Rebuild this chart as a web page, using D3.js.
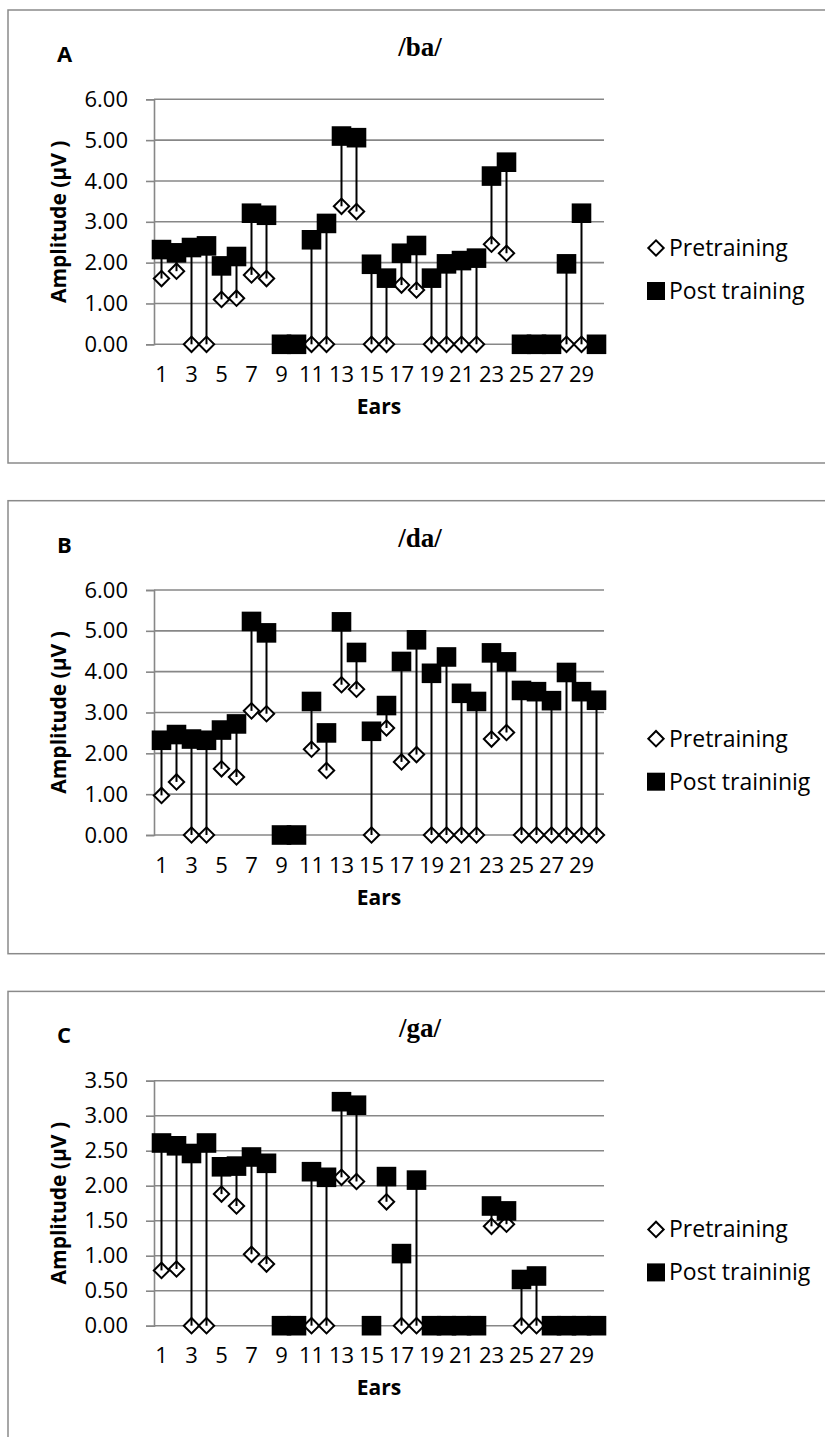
<!DOCTYPE html>
<html>
<head>
<meta charset="utf-8">
<script src="https://cdn.jsdelivr.net/npm/d3@7"></script>
<style>
  body { margin: 0; background: #fff; }
  svg { display: block; }
  text { font-family: "Open Sans", sans-serif; fill: #000; }
</style>
</head>
<body>
<svg width="825" height="1437"></svg>
<script>
"use strict";

// Ears 1..30, amplitudes in microvolts
const EARS = [1, 2, 3, 4, 5, 6, 7, 8, 9, 10, 11, 12, 13, 14, 15, 16, 17, 18, 19, 20, 21, 22, 23, 24, 25, 26, 27, 28, 29, 30];
const EAR_LABELS = [1, 3, 5, 7, 9, 11, 13, 15, 17, 19, 21, 23, 25, 27, 29];

const baPre  = [1.61, 1.79, 0, 0, 1.10, 1.13, 1.70, 1.61, 0, 0, 0, 0, 3.38, 3.25, 0, 0, 1.45, 1.33, 0, 0, 0, 0, 2.45, 2.23, 0, 0, 0, 0, 0, 0];
const baPost = [2.32, 2.24, 2.37, 2.41, 1.92, 2.15, 3.21, 3.16, 0, 0, 2.56, 2.96, 5.10, 5.06, 1.96, 1.62, 2.23, 2.42, 1.62, 1.97, 2.05, 2.11, 4.12, 4.46, 0, 0, 0, 1.97, 3.21, 0];

const daPre  = [0.97, 1.30, 0, 0, 1.62, 1.42, 3.04, 2.97, 0, 0, 2.10, 1.58, 3.68, 3.57, 0, 2.62, 1.79, 1.97, 0, 0, 0, 0, 2.35, 2.51, 0, 0, 0, 0, 0, 0];
const daPost = [2.32, 2.46, 2.35, 2.32, 2.57, 2.72, 5.23, 4.95, 0, 0, 3.27, 2.50, 5.22, 4.47, 2.54, 3.17, 4.25, 4.78, 3.96, 4.36, 3.47, 3.27, 4.46, 4.24, 3.54, 3.51, 3.29, 3.98, 3.51, 3.30];

const gaPre  = [0.79, 0.81, 0, 0, 1.88, 1.71, 1.02, 0.88, 0, 0, 0, 0, 2.12, 2.06, 0, 1.77, 0, 0, 0, 0, 0, 0, 1.42, 1.45, 0, 0, 0, 0, 0, 0];
const gaPost = [2.61, 2.57, 2.46, 2.61, 2.27, 2.28, 2.41, 2.32, 0, 0, 2.20, 2.12, 3.20, 3.15, 0, 2.13, 1.03, 2.08, 0, 0, 0, 0, 1.71, 1.64, 0.66, 0.71, 0, 0, 0, 0];

const TICKS_6 = [0, 1, 2, 3, 4, 5, 6];
const TICKS_35 = [0, 0.5, 1, 1.5, 2, 2.5, 3, 3.5];

const panels = [
    { letter: "A", title: "/ba/", pre: baPre, post: baPost, ticks: TICKS_6, postName: "Post training" },
    { letter: "B", title: "/da/", pre: daPre, post: daPost, ticks: TICKS_6, postName: "Post traininig" },
    { letter: "C", title: "/ga/", pre: gaPre, post: gaPost, ticks: TICKS_35, postName: "Post traininig" }
];

const GRID = "#878787";
const svg = d3.select("svg");

const plot = { left: 154, right: 604, top: 89.3, bottom: 334.3 };

const x = d3.scaleBand()
    .domain(EARS)
    .range([plot.left, plot.right])
    .padding(0);

const diamond = d3.symbol(d3.symbolSquare, 118);
const square = d3.symbol(d3.symbolSquare, 384);

panels.forEach((p, i) => drawPanel(p, 10 + i * 490.7));

function drawPanel(p, top) {
    const g = svg.append("g").attr("transform", `translate(0,${top})`);

    g.append("rect")
        .attr("x", 8).attr("y", 0)
        .attr("width", 830).attr("height", 453)
        .attr("fill", "none")
        .attr("stroke", "#8a8a8a")
        .attr("stroke-width", 1.5);

    g.append("text")
        .attr("x", 57).attr("y", 52)
        .attr("font-size", 22).attr("font-weight", 700)
        .text(p.letter);

    g.append("text")
        .attr("x", 420).attr("y", 46)
        .attr("text-anchor", "middle")
        .style("font-family", "'Liberation Serif', serif")
        .attr("font-size", 27).attr("font-weight", 700)
        .text(p.title);

    const y = d3.scaleLinear()
        .domain([0, d3.max(p.ticks)])
        .range([plot.bottom, plot.top]);

    // horizontal gridlines
    g.append("g")
        .selectAll("line")
        .data(p.ticks)
        .join("line")
            .attr("x1", plot.left).attr("x2", plot.right)
            .attr("y1", d => y(d)).attr("y2", d => y(d))
            .attr("stroke", GRID).attr("stroke-width", 1.6);

    const yAxis = g.append("g")
        .attr("transform", `translate(${plot.left},0)`)
        .call(d3.axisLeft(y).tickValues(p.ticks).tickFormat(d3.format(".2f")).tickSize(8).tickPadding(18));
    yAxis.select(".domain").attr("stroke", GRID).attr("stroke-width", 1.6);
    yAxis.selectAll(".tick line").attr("stroke", GRID).attr("stroke-width", 1.6);
    yAxis.selectAll("text").attr("font-size", 22).attr("font-family", null).attr("fill", "#000");

    const xAxis = g.append("g")
        .attr("transform", `translate(0,${plot.bottom})`)
        .call(d3.axisBottom(x).tickValues(EAR_LABELS).tickSize(0).tickPadding(22));
    xAxis.select(".domain").remove();
    xAxis.selectAll("text").attr("font-size", 22).attr("font-family", null).attr("fill", "#000");

    g.append("text")
        .attr("x", (plot.left + plot.right) / 2).attr("y", 404)
        .attr("text-anchor", "middle")
        .attr("font-size", 21).attr("font-weight", 700)
        .text("Ears");

    g.append("text")
        .attr("transform", `translate(66,${(plot.top + plot.bottom) / 2}) rotate(-90)`)
        .attr("text-anchor", "middle")
        .attr("font-size", 21).attr("font-weight", 700)
        .text("Amplitude (µV )");

    const rows = EARS.map((e, k) => ({ ear: e, pre: p.pre[k], post: p.post[k] }));
    const cx = d => x(d.ear) + x.bandwidth() / 2;

    // pretraining diamonds
    g.append("g")
        .selectAll("path")
        .data(rows)
        .join("path")
            .attr("d", diamond)
            .attr("transform", d => `translate(${cx(d)},${y(d.pre)}) rotate(45)`)
            .attr("fill", "#fff").attr("stroke", "#000").attr("stroke-width", 2);

    // high-low lines
    g.append("g")
        .selectAll("line")
        .data(rows.filter(d => d.post !== d.pre))
        .join("line")
            .attr("x1", cx).attr("x2", cx)
            .attr("y1", d => y(d.pre)).attr("y2", d => y(d.post))
            .attr("stroke", "#000").attr("stroke-width", 2);

    // post training squares
    g.append("g")
        .selectAll("path")
        .data(rows)
        .join("path")
            .attr("d", square)
            .attr("transform", d => `translate(${cx(d)},${y(d.post)})`)
            .attr("fill", "#000");

    // legend
    const legend = g.append("g").attr("transform", "translate(656,0)");
    legend.append("path").attr("d", diamond)
        .attr("transform", "translate(0,238) rotate(45)")
        .attr("fill", "#fff").attr("stroke", "#000").attr("stroke-width", 2);
    legend.append("text").attr("x", 13).attr("y", 246).attr("font-size", 23).text("Pretraining");
    legend.append("rect").attr("x", -9).attr("y", 272).attr("width", 18).attr("height", 18).attr("fill", "#000");
    legend.append("text").attr("x", 13).attr("y", 289).attr("font-size", 23).text(p.postName);
}
</script>
</body>
</html>
